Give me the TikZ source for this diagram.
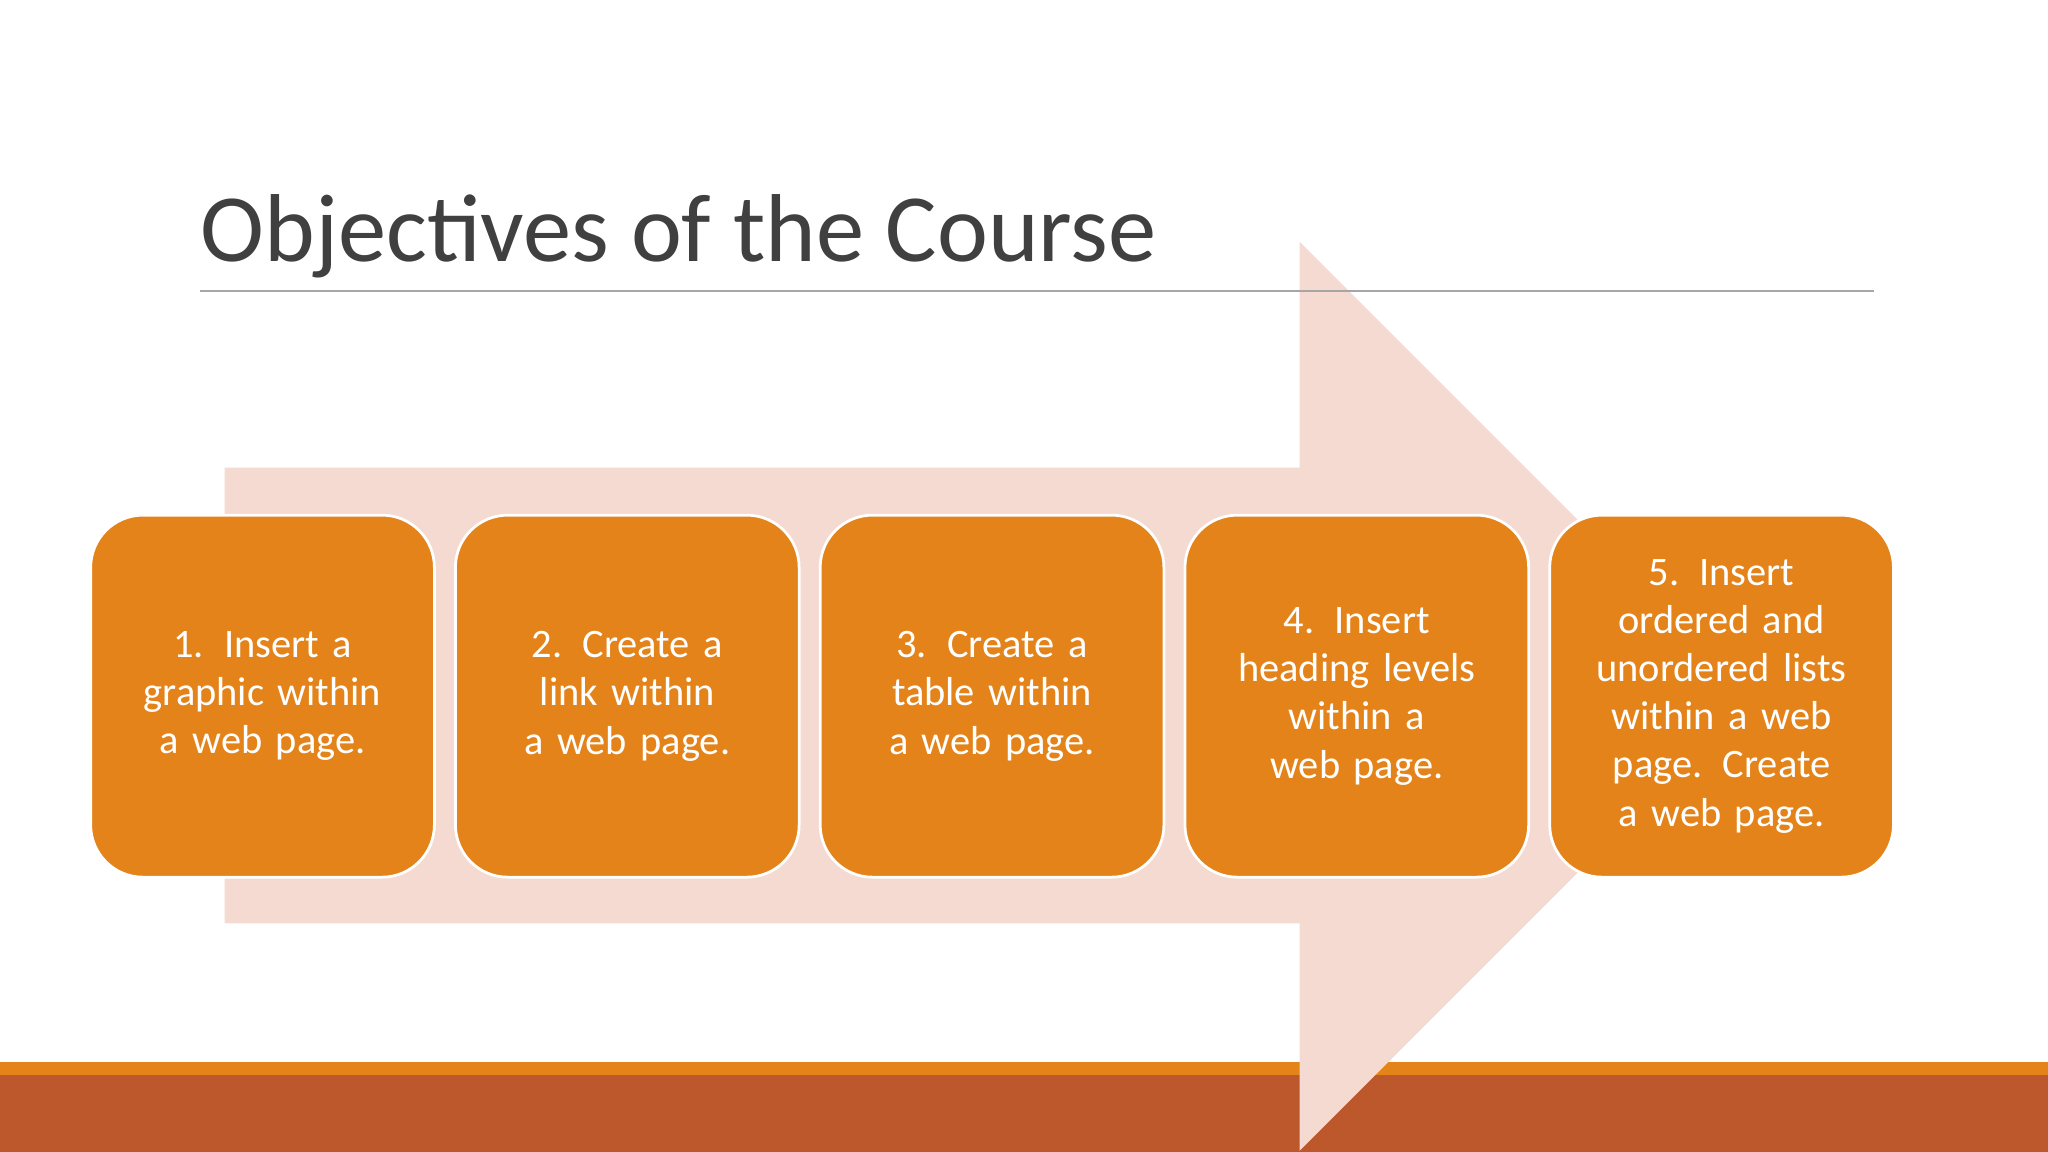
\documentclass[tikz,border=0pt]{standalone}
\usepackage{fontspec}
\setmainfont{Carlito}
\usetikzlibrary{positioning}
\definecolor{boxorange}{HTML}{E3831A}
\definecolor{arrowpink}{HTML}{F4DAD0}
\definecolor{bandred}{HTML}{BC582B}
\definecolor{titlegray}{HTML}{404040}

\begin{document}
\begin{tikzpicture}[x=0.01cm,y=-0.01cm,
                    objbox/.style={draw=white,line width=0.6pt,fill=boxorange,rounded corners=0.4cm,
                                   minimum width=2.63cm,minimum height=2.77cm,text width=2.1cm,
                                   align=center,text=white,font=\fontsize{8.8}{10.5}\selectfont,
                                   inner sep=0pt}]

  \useasboundingbox (0,0) rectangle (1568,882);
  \fill[white] (0,0) rectangle (1568,882);

  % bottom band
  \fill[boxorange] (0,813) rectangle (1568,823);
  \fill[bandred]   (0,823) rectangle (1568,882);

  % big arrow
  \fill[arrowpink] (172,358) -- (995,358) -- (995,185) -- (1343,533)
                   -- (995,881) -- (995,707) -- (172,707) -- cycle;

  % title
  \node[anchor=base west,inner sep=0pt,text=titlegray,font=\fontsize{21}{25}\selectfont]
       (title) at (153,200) {Objectives of the Course};
  \draw[gray!70,line width=0.5pt] (153,223) -- (1435,223);

  % objectives
  \node[objbox] (1) at (201,533) {1. Insert a graphic within a web page.};
  \node[objbox] (2) [right=0.14cm of 1] {2. Create a link within a web page.};
  \node[objbox] (3) [right=0.14cm of 2] {3. Create a table within a web page.};
  \node[objbox] (4) [right=0.14cm of 3] {4. Insert heading levels within a web page.};
  \node[objbox] (5) [right=0.14cm of 4] {5. Insert ordered and unordered lists within a web page. Create a web page.};
\end{tikzpicture}
\end{document}
